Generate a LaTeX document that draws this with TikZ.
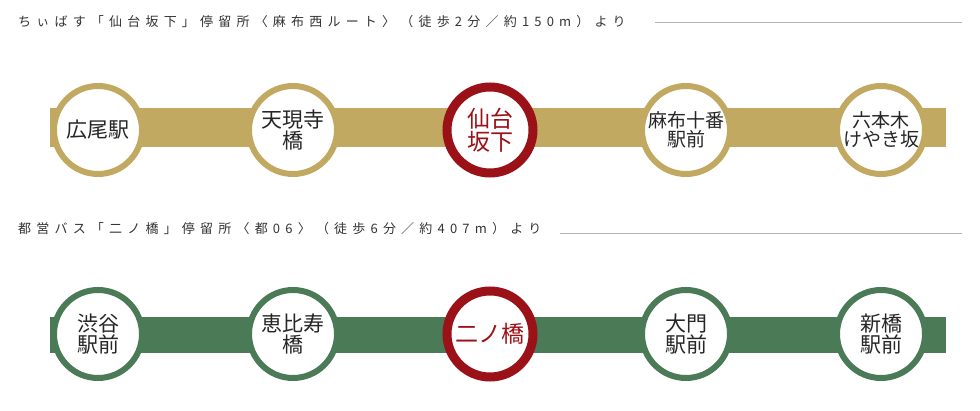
\documentclass[tikz,border=0pt]{standalone}
\usepackage{fontspec}
\setmainfont{Noto Sans CJK JP}
\definecolor{gold}{HTML}{C2A962}
\definecolor{grn}{HTML}{4B7A56}
\definecolor{rd}{HTML}{9B1118}
\begin{document}
\begin{tikzpicture}[x=1pt,y=-1pt,
 st/.style={circle,fill=white,draw=#1,line width=6pt,minimum size=88pt,inner sep=0pt,align=center,font=\fontsize{21}{21}\selectfont,text=black!85},
 cur/.style={circle,fill=white,draw=rd,line width=9pt,minimum size=86pt,inner sep=0pt,align=center,font=\fontsize{23}{23}\selectfont,text=rd},
 sm/.style={font=\fontsize{19}{19}\selectfont},
 hdr/.style={anchor=west,font=\fontsize{13}{13}\selectfont\addfontfeatures{LetterSpace=40},text=black!80,inner sep=0pt}]
\useasboundingbox (0,0) rectangle (980,411);
% top
\node[hdr] (h1) at (18,22) {ちぃばす「仙台坂下」停留所〈麻布西ルート〉（徒歩2分／約150m）より};
\coordinate (l1a) at (655,22); \coordinate (l1b) at (962,22);
\draw[gray!60,line width=0.6pt] (l1a) -- (l1b);
\coordinate (b1a) at (50,128); \coordinate (b1b) at (946,128);
\draw[gold,line width=39pt] (b1a) -- (b1b);
\node[st=gold] (a1) at (98,130) {広尾駅};
\node[st=gold] (a2) at (293,130) {天現寺\\橋};
\node[cur] (a3) at (490,130) {仙台\\坂下};
\node[st=gold,sm] (a4) at (686,130) {麻布十番\\駅前};
\node[st=gold,sm] (a5) at (881,130) {六本木\\けやき坂};
% bottom
\node[hdr] (h2) at (18,229) {都営バス「二ノ橋」停留所〈都06〉（徒歩6分／約407m）より};
\coordinate (l2a) at (560,233); \coordinate (l2b) at (962,233);
\draw[gray!60,line width=0.6pt] (l2a) -- (l2b);
\coordinate (b2a) at (50,335) ; \coordinate (b2b) at (946,335);
\draw[grn,line width=36pt] (b2a) -- (b2b);
\node[st=grn] (c1) at (98,334) {渋谷\\駅前};
\node[st=grn] (c2) at (293,334) {恵比寿\\橋};
\node[cur] (c3) at (490,334) {二ノ橋};
\node[st=grn] (c4) at (686,334) {大門\\駅前};
\node[st=grn] (c5) at (881,334) {新橋\\駅前};
\end{tikzpicture}
\end{document}
